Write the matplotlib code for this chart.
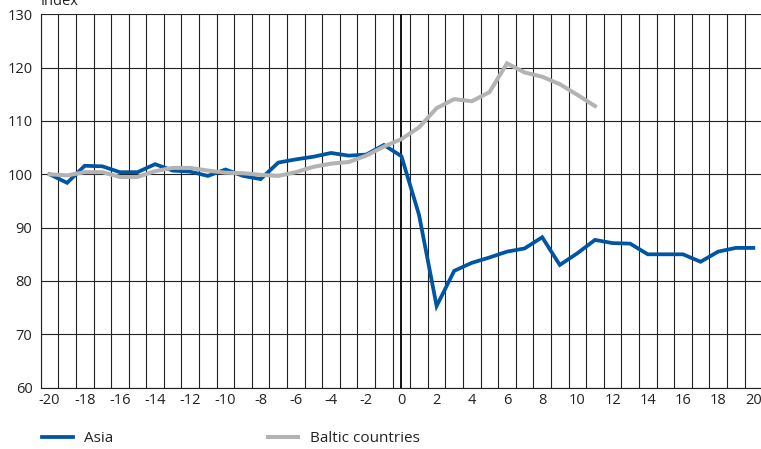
import matplotlib
matplotlib.use("Agg")
import matplotlib.pyplot as plt
import numpy as np

plt.rcParams["font.family"] = ["Open Sans", "DejaVu Sans"]

# months relative to event
months = list(range(-20, 21))
asia = [100.0, 98.4, 101.6, 101.5, 100.4, 100.4, 101.9, 100.7, 100.5, 99.7,
        100.9, 99.7, 99.1, 102.2, 102.8, 103.3, 104.0, 103.5, 103.7, 105.5,
        103.4, 92.4, 75.3, 81.9, 83.4, 84.4, 85.5, 86.1, 88.2, 83.0,
        85.2, 87.7, 87.1, 87.0, 85.0, 85.0, 85.0, 83.6, 85.5, 86.2, 86.2]
baltic_months = list(range(-20, 12))
baltic = [100.0, 99.8, 100.4, 100.4, 99.5, 99.5, 100.6, 101.2, 101.2, 100.7,
          100.3, 100.2, 99.9, 99.7, 100.4, 101.4, 102.0, 102.3, 103.5, 105.2,
          106.6, 108.8, 112.4, 114.1, 113.7, 115.4, 120.8, 119.1, 118.3, 116.9,
          114.9, 112.8]
x_tick_values = list(range(-20, 21, 2))
y_tick_values = list(range(60, 131, 10))

BLUE = "#0055a5"
GREY = "#b3b3b3"
GRID = "#222222"
TEXT = "#222222"

fig = plt.figure(figsize=(7.61, 4.49), dpi=100)
ax = fig.add_axes([0.0535, 0.1367, 0.948, 0.8314])

ax.plot(months, asia, color=BLUE, lw=2.7, solid_joinstyle="miter", label="Asia", zorder=3)
ax.plot(baltic_months, baltic, color=GREY, lw=2.9, solid_joinstyle="miter",
        label="Baltic countries", zorder=4)
ax.axvline(0, color="black", lw=1.3, zorder=2)

ax.set_xlim(-20.5, 20.5)
ax.set_ylim(60, 130)
ax.set_xticks(x_tick_values)
ax.set_xticklabels([str(v) for v in x_tick_values])
ax.set_xticks(np.arange(-20.5, 21, 1.0), minor=True)
ax.set_yticks(y_tick_values)
ax.tick_params(axis="both", which="both", length=0, labelsize=10.5, colors=TEXT)
ax.tick_params(axis="x", pad=4)
ax.tick_params(axis="y", pad=6)
ax.grid(axis="x", which="minor", color=GRID, lw=0.8)
ax.grid(axis="y", which="major", color=GRID, lw=0.8)
ax.set_axisbelow(True)
for side in ["top", "right"]:
    ax.spines[side].set_visible(False)
for side in ["left", "bottom"]:
    ax.spines[side].set_color(GRID)
    ax.spines[side].set_linewidth(0.8)

fig.text(40.7 / 761, 1 - 5 / 449, "Index", fontsize=10.5, color=TEXT,
         ha="left", va="baseline")

handles, labels = ax.get_legend_handles_labels()
fig.legend(handles, labels, loc="center left", bbox_to_anchor=(42 / 761, 1 - 439 / 449),
           ncol=2, frameon=False, fontsize=11, handlelength=2.0, handletextpad=0.75,
           columnspacing=10.1, borderaxespad=0, borderpad=0, labelcolor=TEXT)

fig.savefig("out.png", dpi=100)
